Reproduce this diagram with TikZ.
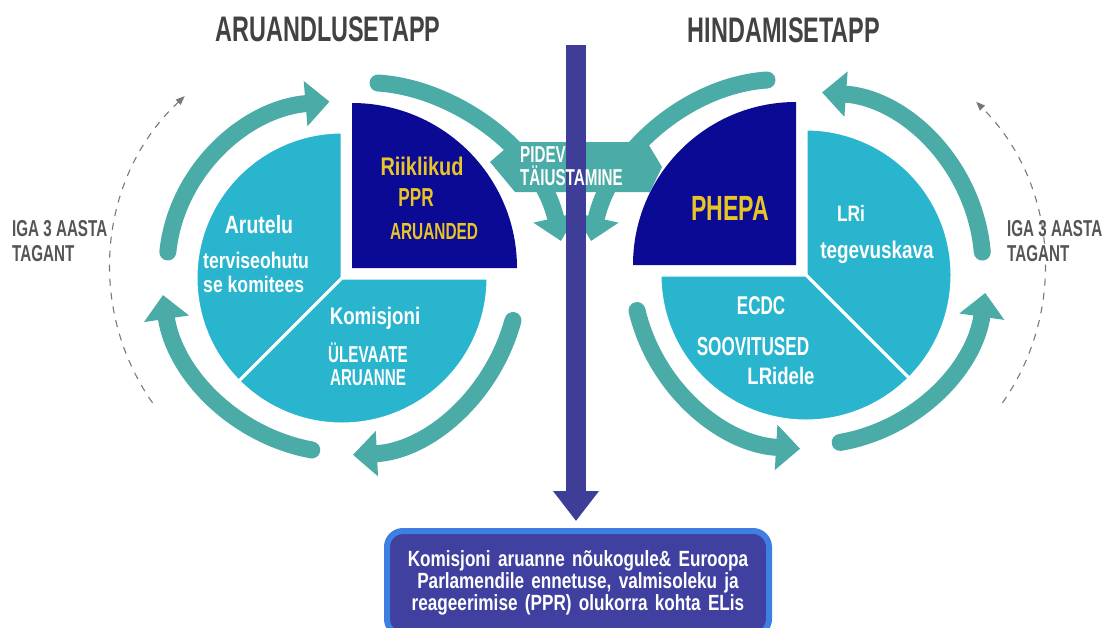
\documentclass[tikz,border=0pt]{standalone}
\usepackage{fontspec}
\setmainfont{Liberation Sans}[FakeStretch=0.78]
\newfontfamily\capsfont{Liberation Sans}[FakeStretch=0.66]
\usetikzlibrary{arrows.meta}

\definecolor{ringteal}{RGB}{74,171,167}
\definecolor{piecyan}{RGB}{41,181,206}
\definecolor{pienavy}{RGB}{10,10,148}
\definecolor{piegold}{RGB}{232,196,38}
\definecolor{barblue}{RGB}{62,62,152}
\definecolor{boxfill}{RGB}{64,64,160}
\definecolor{boxrim}{RGB}{62,128,226}
\definecolor{headgrey}{RGB}{66,66,66}
\definecolor{sidegrey}{RGB}{85,85,85}
\definecolor{dashgrey}{RGB}{120,120,120}

\newcommand{\bsz}[2]{\bfseries\fontsize{#1}{#2}\selectfont}
\newcommand{\csz}[2]{\capsfont\bfseries\fontsize{#1}{#2}\selectfont}

\tikzset{
  ring/.style = {ringteal, line width=17pt, line cap=round, -{Triangle[length=24pt,width=44pt]}},
  yearly/.style = {dashgrey, line width=1.1pt, dash pattern=on 7pt off 7pt, -{Triangle[length=9pt,width=7pt]}},
  slice/.style = {fill=piecyan, draw=white, line width=3pt},
  lbl/.style = {inner sep=0pt, text depth=0pt},
  wlbl/.style = {lbl, text=white},
  glbl/.style = {lbl, text=piegold}
}

\begin{document}
\begin{tikzpicture}[x=1pt, y=-1pt]
\useasboundingbox (0,0) rectangle (1110,627);
\coordinate (lc) at (345,268);
\coordinate (rc) at (810,268);

\draw[slice] (342,278) -- ++(-90:146) arc[start angle=-90, end angle=-225, radius=146] -- cycle;
\draw[slice] (342,278) -- ++(-225:146) arc[start angle=-225, end angle=-360, radius=146] -- cycle;
\fill[pienavy] (352,268) -- ++(0:165) arc[start angle=0, end angle=-90, radius=165] -- cycle;
\draw[slice] (806,275) -- ++(45:146) arc[start angle=45, end angle=-90, radius=146] -- cycle;
\draw[slice] (806,275) -- ++(-180:146) arc[start angle=-180, end angle=-315, radius=146] -- cycle;
\fill[pienavy] (796,265) -- ++(-90:163) arc[start angle=-90, end angle=-180, radius=163] -- cycle;

\draw[ring] ([shift={(-174.5:178 and 167)}]lc) arc[start angle=-174.5, end angle=-95, x radius=178, y radius=167];
\draw[ring] ([shift={(16.3:175 and 187)}]lc) arc[start angle=16.3, end angle=87.4, x radius=175, y radius=187];
\draw[ring] ([shift={(100.4:184 and 185)}]lc) arc[start angle=100.4, end angle=171.6, x radius=184, y radius=185];
\draw[ring] ([shift={(-5.2:173 and 176)}]rc) arc[start angle=-5.2, end angle=-86, x radius=173, y radius=176];
\draw[ring] ([shift={(-193.6:178 and 181)}]rc) arc[start angle=-193.6, end angle=-266.8, x radius=178, y radius=181];
\draw[ring] ([shift={(80.2:177)}]rc) arc[start angle=80.2, end angle=8.1, radius=177];

\draw[ring] (378,83) .. controls (455,88) and (540,150) .. (561,241);
\draw[ring] (767,80) .. controls (690,85) and (612,150) .. (591,241);
\fill[ringteal] (513,142) -- (647,142) -- (662,167) -- (650,192) -- (515,192) -- (490,162) -- cycle;

\draw[yearly] ([shift={(-215:235)}]lc) arc[start angle=-215, end angle=-133, radius=235];
\draw[yearly] ([shift={(35:235)}]rc) arc[start angle=35, end angle=-45, radius=235];

\node[draw=boxrim, fill=boxfill, line width=6pt, rounded corners=16pt, minimum width=382pt, minimum height=104pt,
      text width=372pt, align=center, text=white, font=\bsz{22}{22}] (report) at (578,583)
      {Komisjoni aruanne nõukogule\& Euroopa\\ Parlamendile ennetuse, valmisoleku ja\\ reageerimise (PPR) olukorra kohta ELis};
\coordinate (bartop) at (576,45);
\draw[barblue, line width=20pt, -{Triangle[length=30pt,width=44pt]}, shorten >=7pt] (bartop) -- (bartop |- report.north);

\node[lbl, text=headgrey, font=\csz{35.5}{38}] (stage1) at (328,29.5) {ARUANDLUSETAPP};
\node[lbl, text=headgrey, font=\csz{35.5}{38}] (stage2) at (784,30) {HINDAMISETAPP};
\node[lbl, text=sidegrey, align=left, anchor=west, font=\csz{23}{25}] (everyL) at (12,241) {IGA 3 AASTA\\TAGANT};
\node[lbl, text=sidegrey, align=left, anchor=west, font=\csz{23}{25}] (everyR) at (1007,241) {IGA 3 AASTA\\TAGANT};

\node[glbl, font=\bsz{25.5}{27}] (riik) at (422,166) {Riiklikud};
\node[glbl, font=\csz{26}{28}] (ppr) at (416,198) {PPR};
\node[glbl, font=\csz{23.3}{25}] (aruanded) at (434,231) {ARUANDED};
\node[wlbl, font=\bsz{25}{27}] (arutelu) at (259,224) {Arutelu};
\node[wlbl, align=left, anchor=west, font=\bsz{22.6}{24}] (komitee) at (203,272) {terviseohutu\\se komitees};
\node[wlbl, font=\bsz{24}{26}] (komisjon) at (375,316) {Komisjoni};
\node[wlbl, align=center, font=\csz{23}{23}] (ylevaade) at (368,364) {ÜLEVAATE\\ARUANNE};

\node[glbl, font=\csz{35}{37}] (phepa) at (730,208) {PHEPA};
\node[wlbl, font=\bsz{22.3}{25}] (lri) at (851,213) {LRi};
\node[wlbl, font=\bsz{24.2}{27}] (kava) at (877,250) {tegevuskava};
\node[wlbl, font=\csz{25.7}{27}] (ecdc) at (761,306) {ECDC};
\node[wlbl, font=\csz{26}{28}] (soovitus) at (753,346) {SOOVITUSED};
\node[wlbl, font=\bsz{23.8}{26}] (lridele) at (781,376) {LRidele};

\node[wlbl, align=left, anchor=west, font=\csz{23}{23}] (pidev) at (520,166) {PIDEV\\TÄIUSTAMINE};
\end{tikzpicture}
\end{document}
